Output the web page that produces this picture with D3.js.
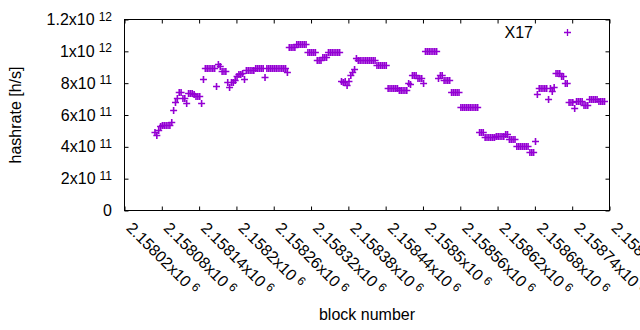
<!DOCTYPE html>
<html>

<head>
    <meta charset="UTF-8">
    <style>
        body { margin: 0; background: #fff; }
        text { font-family: "Liberation Sans", Arial, sans-serif; fill: #000; }
    </style>
</head>

<body>
    <div id="my_dataviz"></div>

    <script src="https://d3js.org/d3.v7.min.js"></script>
    <script>
        // block numbers: first block and sampling step
        const blockStart = 2158069;
        const blockStep = 3;

        // hashrate per sampled block, in units of 1e11 h/s
        const hashrate = [
            4.95, 4.75, 5.05, 5.3, 5.38, 5.38, 5.38, 5.38, 5.38, 5.55,
            6.3, 6.8, 7.05, 7.45, 7.45, 7.05, 7.05, 6.74, 7.39, 7.39,
            7.39, 7.3, 7.2, 7.2, 7.2, 6.74, 8.25, 8.94, 8.94, 8.94,
            8.94, 8.94, 8.94, 7.83, 9.2, 9.1, 8.77, 8.77, 8.77, 8.05,
            7.78, 8.05, 8.05, 8.2, 8.45, 8.55, 8.6, 8.65, 8.25, 8.8,
            8.8, 8.8, 8.8, 8.8, 8.94, 8.94, 8.94, 8.94, 8.94, 8.41,
            8.95, 8.95, 8.95, 8.95, 8.95, 8.95, 8.95, 8.95, 8.95, 8.95,
            8.95, 8.69, 10.27, 10.27, 10.27, 10.27, 10.43, 10.43, 10.43, 10.43,
            10.43, 10.43, 9.96, 9.96, 9.96, 9.96, 9.96, 9.46, 9.46, 9.46,
            9.64, 9.64, 9.64, 9.96, 9.96, 9.96, 9.96, 9.96, 9.96, 9.96,
            8.14, 8.05, 8.14, 7.89, 8.14, 8.5, 8.7, 8.9, 9.58, 9.46,
            9.46, 9.46, 9.46, 9.46, 9.46, 9.46, 9.46, 9.46, 9.46, 9.17,
            9.17, 9.17, 9.17, 9.17, 9.17, 7.67, 7.67, 7.67, 7.67, 7.67,
            7.67, 7.58, 7.58, 7.58, 7.58, 7.58, 8.0, 7.95, 8.52, 8.52,
            8.52, 8.3, 8.3, 8.3, 8.03, 10.02, 10.02, 10.02, 10.02, 10.02,
            10.02, 10.02, 8.31, 8.52, 8.52, 8.23, 8.23, 8.23, 8.23, 7.42,
            7.42, 7.42, 7.42, 7.42, 6.49, 6.49, 6.49, 6.49, 6.49, 6.49,
            6.49, 6.49, 6.49, 6.49, 4.95, 4.95, 4.95, 4.63, 4.63, 4.63,
            4.63, 4.63, 4.63, 4.69, 4.69, 4.69, 4.69, 4.69, 4.8, 4.8,
            4.5, 4.5, 4.5, 4.5, 4.07, 4.07, 4.07, 4.07, 4.07, 4.07,
            4.07, 3.66, 3.66, 3.66, 4.38, 7.31, 7.7, 7.7, 7.7, 7.7,
            7.7, 7.0, 7.7, 7.5, 7.78, 8.64, 8.64, 8.64, 8.42, 8.42,
            8.01, 8.01, 6.84, 6.84, 6.84, 6.47, 6.89, 6.89, 6.89, 6.89,
            6.64, 6.64, 6.64, 7.01, 7.01, 7.01, 7.01, 7.01, 6.86, 6.86,
            6.86, 6.86
        ];

        // tick values
        const xTicks = [2158020, 2158080, 2158140, 2158200, 2158260, 2158320, 2158380,
            2158440, 2158500, 2158560, 2158620, 2158680, 2158740, 2158800];
        const yTicks = [0, 2e11, 4e11, 6e11, 8e11, 1e12, 1.2e12];
        const yTickMantissa = ["0", "2", "4", "6", "8", "1", "1.2"];
        const yTickExponent = ["", "11", "11", "11", "11", "12", "12"];
        const seriesName = "X17";
        const color = "#9400d3";

        const W = 640, H = 330;
        const plotLeft = 124.5, plotRight = 609.5, plotTop = 19.5, plotBottom = 210.5;

        const data = hashrate.map((v, i) => ({ block: blockStart + i * blockStep, value: v * 1e11 }));

        var svg = d3.select("#my_dataviz")
            .append("svg")
            .attr("width", W)
            .attr("height", H);

        var x = d3.scaleLinear()
            .domain([xTicks[0], xTicks[xTicks.length - 1]])
            .range([plotLeft, plotRight]);

        var y = d3.scaleLinear()
            .domain([0, 1.2e12])
            .range([plotBottom, plotTop]);

        // ticks on all four sides, pointing inwards
        function tickAxis(axis, transform) {
            var g = svg.append("g")
                .attr("transform", transform)
                .call(axis.tickSizeInner(-4).tickSizeOuter(0).tickFormat(""));
            g.select(".domain").remove();
            g.selectAll(".tick line").attr("stroke", "#000").attr("stroke-width", 1);
        }
        tickAxis(d3.axisBottom(x).tickValues(xTicks), "translate(0," + plotBottom + ")");
        tickAxis(d3.axisTop(x).tickValues(xTicks), "translate(0," + plotTop + ")");
        tickAxis(d3.axisLeft(y).tickValues(yTicks), "translate(" + plotLeft + ",0)");
        tickAxis(d3.axisRight(y).tickValues(yTicks), "translate(" + plotRight + ",0)");

        svg.append("rect")
            .attr("x", plotLeft).attr("y", plotTop)
            .attr("width", plotRight - plotLeft).attr("height", plotBottom - plotTop)
            .attr("fill", "none").attr("stroke", "#000").attr("stroke-width", 1);

        // y tick labels like 2x10^11
        var yLab = svg.append("g").selectAll("text")
            .data(yTicks)
            .enter().append("text")
            .attr("x", 112)
            .attr("y", d => y(d) + 5.5)
            .attr("text-anchor", "end")
            .style("font-size", "16px");
        yLab.append("tspan").text((d, i) => yTickMantissa[i] + (yTickExponent[i] ? "x10" : ""));
        yLab.append("tspan")
            .attr("dx", (d, i) => yTickExponent[i] ? 4 : 0)
            .attr("dy", -4.5)
            .style("font-size", "12px")
            .text((d, i) => yTickExponent[i]);

        // x tick labels, rotated
        var xLab = svg.append("g").selectAll("text")
            .data(xTicks)
            .enter().append("text")
            .attr("transform", d => "translate(" + (x(d) + 1) + "," + 229 + ") rotate(45)")
            .style("font-size", "16px");
        xLab.append("tspan").text(d => String(+(d / 1e6).toFixed(5)) + "x10");
        xLab.append("tspan")
            .attr("dx", 4)
            .attr("dy", -4.5)
            .style("font-size", "12px")
            .text("6");

        // axis titles
        svg.append("text")
            .attr("transform", "translate(21," + ((plotTop + plotBottom) / 2) + ") rotate(-90)")
            .attr("text-anchor", "middle")
            .style("font-size", "16px")
            .text("hashrate [h/s]");

        svg.append("text")
            .attr("x", (plotLeft + plotRight) / 2)
            .attr("y", 320)
            .attr("text-anchor", "middle")
            .style("font-size", "16px")
            .text("block number");

        // plus markers
        function plus(px, py) {
            var cy = Math.round(py) + 0.5;
            return "M" + (px - 3.5) + "," + cy + "h7M" + px + "," + (cy - 3.5) + "v7";
        }

        svg.append("path")
            .attr("d", data.map(d => plus(x(d.block), y(d.value))).join(""))
            .attr("fill", "none")
            .attr("stroke", color)
            .attr("stroke-width", 1.6);

        // legend
        svg.append("text")
            .attr("x", 533)
            .attr("y", 38)
            .attr("text-anchor", "end")
            .style("font-size", "16px")
            .text(seriesName);

        svg.append("path")
            .attr("d", plus(567.5, 32))
            .attr("fill", "none")
            .attr("stroke", color)
            .attr("stroke-width", 1.3);
    </script>
</body>

</html>
